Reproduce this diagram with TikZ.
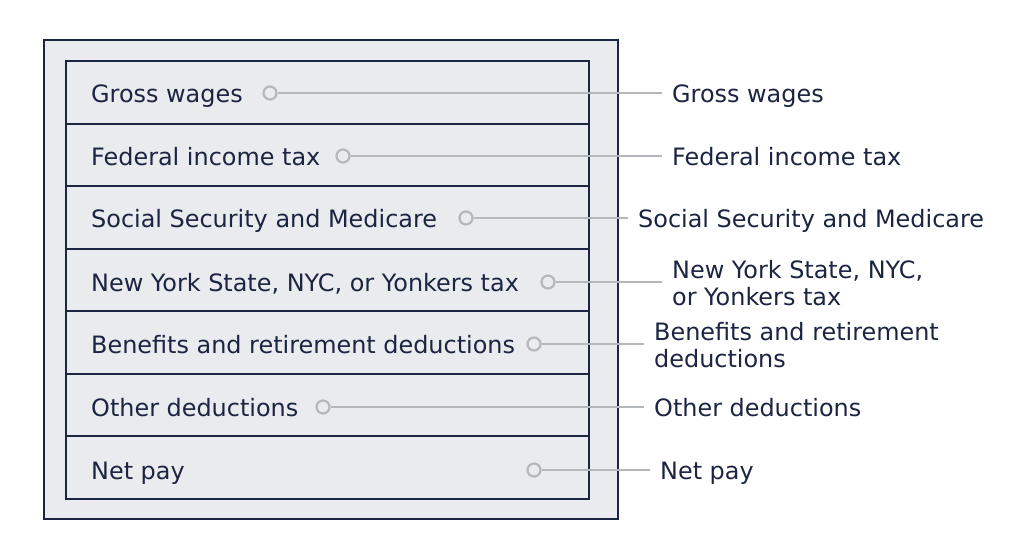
\documentclass[tikz,border=0pt]{standalone}
\usepackage{fontspec}
\setmainfont{DejaVu Sans}
\definecolor{navy}{HTML}{1B2541}
\definecolor{panel}{HTML}{E9EBEE}
\definecolor{wire}{HTML}{B4B7BC}

\begin{document}
\begin{tikzpicture}[x=1bp,y=-1bp,font=\fontsize{24}{27}\selectfont,text=navy]
    \tikzstyle{row}=[draw=navy,line width=2bp,fill=panel,minimum width=523bp,minimum height=62.57bp,inner sep=0pt]
    \tikzstyle{item}=[anchor=base west,inner sep=0pt]
    \tikzstyle{dot}=[circle,draw=wire,fill=panel,line width=2.2bp,minimum size=13bp,inner sep=0pt]
    \tikzstyle{callout}=[anchor=west,inner sep=0pt,align=left]
    \tikzstyle{leader}=[draw=wire,line width=2.2bp,shorten >=10bp]

    \useasboundingbox (0,0) rectangle (1024,559);
    \draw[navy,line width=2.2bp,fill=panel] (44,40) rectangle (618,519);

    \node[row] (row1) at (327.5,92.3) {};
    \node[row] (row2) at (327.5,154.9) {};
    \node[row] (row3) at (327.5,217.4) {};
    \node[row] (row4) at (327.5,280) {};
    \node[row] (row5) at (327.5,342.6) {};
    \node[row] (row6) at (327.5,405.1) {};
    \node[row] (row7) at (327.5,467.7) {};

    \node[item] (gross) at (91,102.5) {Gross wages};
    \node[item] (federal) at (91,165.5) {Federal income tax};
    \node[item] (social) at (91,227.5) {Social Security and Medicare};
    \node[item] (state) at (91,291.5) {New York State, NYC, or Yonkers tax};
    \node[item] (benefits) at (91,353.5) {Benefits and retirement deductions};
    \node[item] (other) at (91,416.5) {Other deductions};
    \node[item] (net) at (91,479.5) {Net pay};

    \node[dot] (grossdot) at (270,93) {};
    \node[dot] (federaldot) at (343,156) {};
    \node[dot] (socialdot) at (466,218) {};
    \node[dot] (statedot) at (548,282) {};
    \node[dot] (benefitsdot) at (534,344) {};
    \node[dot] (otherdot) at (323,407) {};
    \node[dot] (netdot) at (534,470) {};

    \node[item] (grossout) at (672,102.5) {Gross wages};
    \node[item] (federalout) at (672,165.5) {Federal income tax};
    \node[item] (socialout) at (638,227.5) {Social Security and Medicare};
    \node[callout] (stateout) at (672,283) {New York State, NYC,\\or Yonkers tax};
    \node[callout] (benefitsout) at (654,345) {Benefits and retirement\\deductions};
    \node[item] (otherout) at (654,416.5) {Other deductions};
    \node[item] (netout) at (660,479.5) {Net pay};

    \draw[leader] (grossdot) -- (grossdot -| grossout.west);
    \draw[leader] (federaldot) -- (federaldot -| federalout.west);
    \draw[leader] (socialdot) -- (socialdot -| socialout.west);
    \draw[leader] (statedot) -- (statedot -| stateout.west);
    \draw[leader] (benefitsdot) -- (benefitsdot -| benefitsout.west);
    \draw[leader] (otherdot) -- (otherdot -| otherout.west);
    \draw[leader] (netdot) -- (netdot -| netout.west);
\end{tikzpicture}
\end{document}
